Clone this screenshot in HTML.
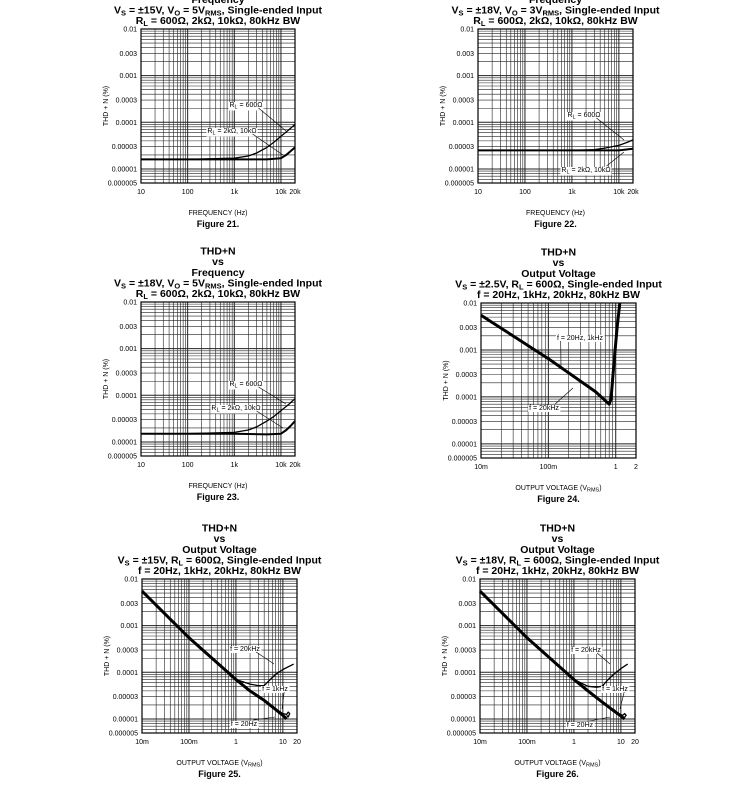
<!DOCTYPE html>
<html><head><meta charset="utf-8"><style>
body{margin:0;background:#fff;width:735px;height:794px;overflow:hidden}
svg{display:block;font-family:"Liberation Sans",Arial,sans-serif}
</style></head><body>
<svg id="s" width="735" height="794" viewBox="0 0 735 794" xmlns="http://www.w3.org/2000/svg">
<rect width="735" height="794" fill="#fff"/>
</svg>
<script>
// ---- data ----
const yTickVals = [0.01,0.003,0.001,0.0003,0.0001,0.00003,0.00001,0.000005];
const yTickLabels = ["0.01","0.003","0.001","0.0003","0.0001","0.00003","0.00001","0.000005"];
const freqTickVals = [10,100,1000,10000,20000];
const freqTickLabels = ["10","100","1k","10k","20k"];
const voltTickVals24 = [0.01,0.1,1,2];
const voltTickLabels24 = ["10m","100m","1","2"];
const voltTickVals25 = [0.01,0.1,1,10,20];
const voltTickLabels25 = ["10m","100m","1","10","20"];

const f21_600_x = [10,100,1000,2000,3000,5000,7000,10000,15000,20000];
const f21_600_y = [1.6e-5,1.6e-5,1.7e-5,1.9e-5,2.2e-5,2.9e-5,3.7e-5,5e-5,7e-5,9e-5];
const f21_2k_x = [10,100,1000,5000,10000,13000,16000,20000];
const f21_2k_y = [1.6e-5,1.6e-5,1.6e-5,1.6e-5,1.7e-5,2e-5,2.4e-5,2.9e-5];
const f22_600_x = [10,100,1000,3000,5000,10000,15000,20000];
const f22_600_y = [2.5e-5,2.5e-5,2.5e-5,2.6e-5,2.8e-5,3.2e-5,3.7e-5,4.2e-5];
const f22_2k_x = [10,100,1000,10000,20000];
const f22_2k_y = [2.5e-5,2.5e-5,2.5e-5,2.5e-5,2.7e-5];
const f23_600_x = [10,100,1000,2000,3000,5000,7000,10000,15000,20000];
const f23_600_y = [1.5e-5,1.5e-5,1.6e-5,1.8e-5,2.1e-5,2.8e-5,3.5e-5,4.7e-5,6.5e-5,8.5e-5];
const f23_2k_x = [10,100,1000,5000,10000,13000,16000,20000];
const f23_2k_y = [1.5e-5,1.5e-5,1.5e-5,1.45e-5,1.5e-5,1.8e-5,2.2e-5,2.8e-5];
const f24_x = [0.01,0.1,0.5,0.8,0.85,0.95,1.05,1.15];
const f24_y = [5.5e-3,6.5e-4,1.3e-4,7e-5,9e-5,6e-4,3e-3,1e-2];
const f25_main_x = [0.01,0.1,1,2,4,7,10,12];
const f25_main_y = [5.5e-3,5.5e-4,7e-5,4e-5,2.5e-5,1.6e-5,1.2e-5,1e-5];
const f25_20k_x = [1,2,3,4,5,7,10,17];
const f25_20k_y = [7e-5,5.6e-5,5.2e-5,5.2e-5,6.5e-5,9e-5,1.15e-4,1.5e-4];
const f25_1k_x = [7,10,12,13,14,13,12];
const f25_1k_y = [1.6e-5,1.3e-5,1.25e-5,1.4e-5,1.3e-5,1.1e-5,1.2e-5];
const f26_main_x = [0.01,0.1,1,2,4,7,10,12];
const f26_main_y = [5.5e-3,5.5e-4,7e-5,4e-5,2.3e-5,1.5e-5,1.15e-5,1e-5];
const f26_20k_x = [1,2,3,4,5,7,10,14];
const f26_20k_y = [7e-5,5e-5,4.8e-5,5e-5,6.5e-5,9e-5,1.2e-4,1.5e-4];
const f26_1k_x = [7,9,11,12,13,12];
const f26_1k_y = [1.6e-5,1.3e-5,1.2e-5,1.3e-5,1.2e-5,1.1e-5];

const svg = document.getElementById('s');
const NS = "http://www.w3.org/2000/svg";
function el(tag, attrs, parent){const e=document.createElementNS(NS,tag);for(const k in attrs)e.setAttribute(k,attrs[k]);(parent||svg).appendChild(e);return e;}
const L=Math.log10;

function chart(c){
  const g=el('g',{});
  
  
  const xmin=c.xmin,xmax=c.xmax,ymin=5e-6,ymax=0.01;
  const X=v=>c.x0+(L(v)-L(xmin))/(L(xmax)-L(xmin))*c.w;
  const Y=v=>c.y0+(L(ymax)-L(v))/(L(ymax)-L(ymin))*c.h;
  c.X=X;c.Y=Y;c.g=g;
  // grid
  for(let d=Math.floor(L(xmin));d<=Math.ceil(L(xmax));d++){for(let m=1;m<=9;m++){const v=m*Math.pow(10,d);if(v<xmin*0.999||v>xmax*1.001)continue;const x=X(v);
    const ln=el('line',{x1:x,x2:x,y1:c.y0,y2:c.y0+c.h,stroke:'#222','stroke-width':m==1?1:0.6},g);
    }}
  for(let d=-6;d<=-2;d++){for(let m=1;m<=9;m++){const v=m*Math.pow(10,d);if(v<ymin*0.999||v>ymax*1.001)continue;const y=Y(v);
    const ln=el('line',{x1:c.x0,x2:c.x0+c.w,y1:y,y2:y,stroke:'#222','stroke-width':m==1?1:0.6},g);
    }}
  el('rect',{x:c.x0,y:c.y0,width:c.w,height:c.h,fill:'none',stroke:'#000','stroke-width':1.2},g);
  // y ticks
  yTickVals.forEach((v,i)=>{const t=el('text',{x:c.x0-4,y:Y(v)+2.5,'font-size':7,'text-anchor':'end',fill:'#000'},g);t.textContent=yTickLabels[i];
    });
  c.xt.forEach((v,i)=>{const t=el('text',{x:X(v),y:c.y0+c.h+11,'font-size':7,'text-anchor':'middle',fill:'#000'},g);t.textContent=c.xl[i];
    });
  const yt=el('text',{x:0,y:0,'font-size':7,'text-anchor':'middle',transform:`translate(${c.x0-33},${c.y0+c.h/2}) rotate(-90)`},g);yt.textContent='THD + N (%)';
  
  const xtt=el('text',{x:c.x0+c.w/2,y:c.y0+c.h+32,'font-size':7,'text-anchor':'middle'},g);
  
  if(c.freq){xtt.textContent='FREQUENCY (Hz)';}else{xtt.innerHTML='OUTPUT VOLTAGE (V<tspan font-size="5.5" dy="1.5">RMS</tspan><tspan dy="-1.5">)</tspan>';}
  const fl=el('text',{x:c.x0+c.w/2,y:c.y0+c.h+44,'font-size':9,'font-weight':'bold','text-anchor':'middle'},g);fl.textContent=c.fig;
  
  // title
  const n=c.title.length;
  c.title.forEach((s,i)=>{const t=el('text',{x:c.x0+c.w/2,y:c.y0-5-(n-1-i)*10.6,'font-size':10.5,'font-weight':'bold','text-anchor':'middle'},g);t.innerHTML=s;
    });
  return c;
}
function series(c,xs,ys,w,name){
  const d=xs.map((v,i)=>(i?'L':'M')+c.X(v).toFixed(1)+' '+c.Y(ys[i]).toFixed(1)).join(' ');
  const p=el('path',{d,fill:'none',stroke:'#000','stroke-width':w,'stroke-linejoin':'round'},c.g);
  
  
}
function note(c,tx,ty,html,ax,ay,name){
  const t=el('text',{x:tx,y:ty,'font-size':7,'text-anchor':'middle'},c.g);t.innerHTML=html;
  
  const bb=t.getBBox();
  el('rect',{x:bb.x-1,y:bb.y,width:bb.width+2,height:bb.height,fill:'#fff'},c.g);
  c.g.appendChild(t);
  const sx=tx+(ax>tx?bb.width/2-4:-bb.width/2+4),sy=ty+(ay>ty?1:-6);
  el('line',{x1:sx,y1:sy,x2:ax,y2:ay,stroke:'#000','stroke-width':0.6},c.g);
}
const sub=(a,b)=>`${a}<tspan font-size="7.5" dy="2">${b}</tspan><tspan dy="-2">`;
const t21=["THD+N","vs","Frequency",`V${sub('','S')} = ±15V, V<tspan font-size="7.5" dy="2">O</tspan><tspan dy="-2"> = 5V</tspan><tspan font-size="7.5" dy="2">RMS</tspan><tspan dy="-2">, Single-ended Input</tspan></tspan>`,`R<tspan font-size="7.5" dy="2">L</tspan><tspan dy="-2"> = 600Ω, 2kΩ, 10kΩ, 80kHz BW</tspan>`];
function vsLine(vs,vo){return `V<tspan font-size="7.5" dy="2">S</tspan><tspan dy="-2"> = ${vs}, V</tspan><tspan font-size="7.5" dy="2">O</tspan><tspan dy="-2"> = ${vo}V</tspan><tspan font-size="7.5" dy="2">RMS</tspan><tspan dy="-2">, Single-ended Input</tspan>`;}
function vsLine2(vs){return `V<tspan font-size="7.5" dy="2">S</tspan><tspan dy="-2"> = ${vs}, R</tspan><tspan font-size="7.5" dy="2">L</tspan><tspan dy="-2"> = 600Ω, Single-ended Input</tspan>`;}
const rl=`R<tspan font-size="7.5" dy="2">L</tspan><tspan dy="-2"> = 600Ω, 2kΩ, 10kΩ, 80kHz BW</tspan>`;
const fl="f = 20Hz, 1kHz, 20kHz, 80kHz BW";
const rlN=(v)=>`R<tspan font-size="5.5" dy="1.5">L</tspan><tspan dy="-1.5"> = ${v}</tspan>`;

const c21=chart({name:'chart-figure-21',x0:141,y0:29,w:154,h:154,xmin:10,xmax:20000,xt:freqTickVals,xl:freqTickLabels,freq:1,fig:'Figure 21.',title:["THD+N","vs","Frequency",vsLine('±15V',5),rl]});
series(c21,f21_600_x,f21_600_y,1.3,'series-rl-600');series(c21,f21_2k_x,f21_2k_y,2,'series-rl-2k-10k');
note(c21,246,107,rlN('600Ω'),286,131,'label-rl-600');note(c21,232,133,rlN('2kΩ, 10kΩ'),283,155,'label-rl-2k');

const c22=chart({name:'chart-figure-22',x0:478,y0:29,w:155,h:154,xmin:10,xmax:20000,xt:freqTickVals,xl:freqTickLabels,freq:1,fig:'Figure 22.',title:["THD+N","vs","Frequency",vsLine('±18V',3),rl]});
series(c22,f22_600_x,f22_600_y,1.3,'series-rl-600');series(c22,f22_2k_x,f22_2k_y,2,'series-rl-2k-10k');
note(c22,584,117,rlN('600Ω'),624,140,'label-rl-600');note(c22,586,172,rlN('2kΩ, 10kΩ'),624,152,'label-rl-2k');

const c23=chart({name:'chart-figure-23',x0:141,y0:302,w:154,h:154,xmin:10,xmax:20000,xt:freqTickVals,xl:freqTickLabels,freq:1,fig:'Figure 23.',title:["THD+N","vs","Frequency",vsLine('±18V',5),rl]});
series(c23,f23_600_x,f23_600_y,1.3,'series-rl-600');series(c23,f23_2k_x,f23_2k_y,2,'series-rl-2k-10k');
note(c23,246,386,rlN('600Ω'),286,404,'label-rl-600');note(c23,236,410,rlN('2kΩ, 10kΩ'),283,428,'label-rl-2k');

const c24=chart({name:'chart-figure-24',x0:481,y0:303,w:155,h:155,xmin:0.01,xmax:2,xt:voltTickVals24,xl:voltTickLabels24,fig:'Figure 24.',title:["THD+N","vs","Output Voltage",vsLine2('±2.5V'),fl]});
series(c24,f24_x,f24_y,3,'series-all-freq');
note(c24,580,340,'f = 20Hz, 1kHz',561,367,'label-20hz-1khz');note(c24,544,410,'f = 20kHz',573,388,'label-20khz');

const c25=chart({name:'chart-figure-25',x0:142,y0:579,w:155,h:154,xmin:0.01,xmax:20,xt:voltTickVals25,xl:voltTickLabels25,fig:'Figure 25.',title:["THD+N","vs","Output Voltage",vsLine2('±15V'),fl]});
series(c25,f25_main_x,f25_main_y,3,'series-20hz');series(c25,f25_20k_x,f25_20k_y,1.3,'series-20khz');series(c25,f25_1k_x,f25_1k_y,1.3,'series-1khz');
note(c25,245,651,'f = 20kHz',274,664,'label-20khz');note(c25,275,691,'f = 1kHz',282,709,'label-1khz');note(c25,244,726,'f = 20Hz',275,717,'label-20hz');

const c26=chart({name:'chart-figure-26',x0:480,y0:579,w:155,h:154,xmin:0.01,xmax:20,xt:voltTickVals25,xl:voltTickLabels25,fig:'Figure 26.',title:["THD+N","vs","Output Voltage",vsLine2('±18V'),fl]});
series(c26,f26_main_x,f26_main_y,3,'series-20hz');series(c26,f26_20k_x,f26_20k_y,1.3,'series-20khz');series(c26,f26_1k_x,f26_1k_y,1.3,'series-1khz');
note(c26,586,652,'f = 20kHz',610,664,'label-20khz');note(c26,615,691,'f = 1kHz',620,709,'label-1khz');note(c26,580,727,'f = 20Hz',610,717,'label-20hz');
</script>
</body></html>
